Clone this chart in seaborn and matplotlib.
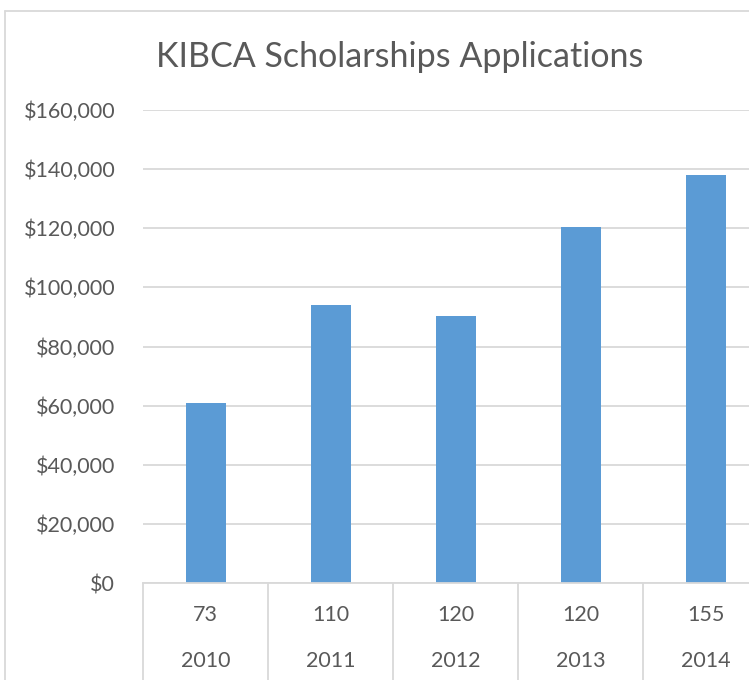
import matplotlib
matplotlib.use("Agg")
import matplotlib.pyplot as plt
import seaborn as sns
import pandas as pd
from matplotlib.lines import Line2D
from matplotlib.ticker import FuncFormatter
import matplotlib.transforms as mtransforms

years = ["2010", "2011", "2012", "2013", "2014"]
applications = ["73", "110", "120", "120", "155"]
amounts = [61000, 94000, 90300, 120400, 138000]
y_ticks = [0, 20000, 40000, 60000, 80000, 100000, 120000, 140000, 160000]

sns.set_theme(style="white")
plt.rcParams["font.family"] = ["Lato", "DejaVu Sans"]

TXT = "#595959"
GRID = "#D9D9D9"
BAR = "#5B9BD5"

W, H = 749, 680
fig = plt.figure(figsize=(W / 100, H / 100), dpi=100)
fig.patch.set_facecolor("white")

ax = fig.add_axes([143 / W, (H - 583) / H, 625 / W, (583 - 110) / H])
df = pd.DataFrame({"year": years, "amount": amounts})
sns.barplot(data=df, x="year", y="amount", color=BAR, width=0.32, ax=ax,
            saturation=1, edgecolor="none")

ax.set_ylim(0, 160000)
ax.set_xlim(-0.5, 4.5)
ax.set_yticks(y_ticks)
ax.yaxis.set_major_formatter(FuncFormatter(lambda v, p: "${:,.0f}".format(v)))
ax.tick_params(axis="y", length=0, pad=20, labelsize=15.5, labelcolor=TXT)
ax.set_xticks([])
ax.set_xlabel("")
ax.set_ylabel("")
ax.yaxis.grid(True, color=GRID, linewidth=1.3)
ax.set_axisbelow(True)
for s in ["left", "right", "top"]:
    ax.spines[s].set_visible(False)
ax.spines["bottom"].set_color(GRID)
ax.spines["bottom"].set_linewidth(1.3)

trans = mtransforms.blended_transform_factory(ax.transData, ax.transAxes)
for i in range(len(years) + 1):
    ax.add_line(Line2D([i - 0.5, i - 0.5], [0, -0.21], transform=trans,
                       color=GRID, linewidth=1.3, clip_on=False))
for i, (yr, ap) in enumerate(zip(years, applications)):
    ax.text(i, -0.067, ap, transform=trans, ha="center", va="center",
            fontsize=15.5, color=TXT)
    ax.text(i, -0.165, yr, transform=trans, ha="center", va="center",
            fontsize=15.5, color=TXT)

# chart area border
fig.add_artist(Line2D([5 / W, 5 / W], [0, (H - 11) / H], color=GRID, linewidth=1.3))
fig.add_artist(Line2D([5 / W, 1], [(H - 11) / H, (H - 11) / H], color=GRID, linewidth=1.3))

fig.text(400 / W, (H - 57) / H, "KIBCA Scholarships Applications", ha="center",
         va="center", fontsize=24.5, color=TXT)

fig.savefig("out.png", dpi=100)
